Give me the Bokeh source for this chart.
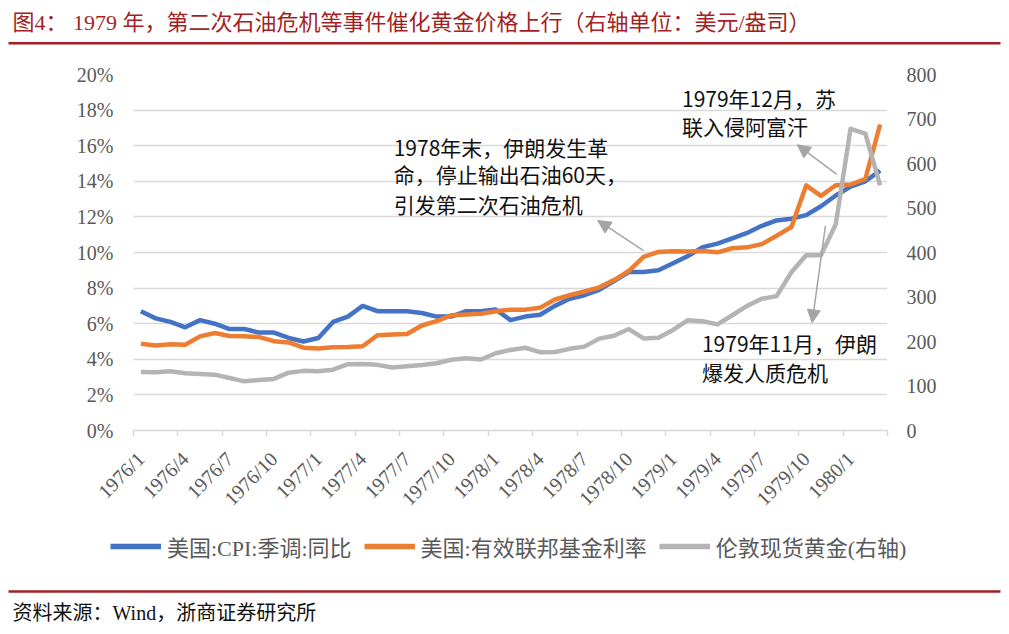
import math
from bokeh.plotting import figure
from bokeh.layouts import column
from bokeh.models import (Range1d, LinearAxis, FixedTicker, Label, Arrow, NormalHead,
                          Legend, LegendItem, BoxAnnotation, ColumnDataSource)
from bokeh.embed import file_html
from bokeh.resources import INLINE

# ---------------- data ----------------
months = [
    "1976/1", "1976/2", "1976/3", "1976/4", "1976/5", "1976/6", "1976/7", "1976/8", "1976/9", "1976/10", "1976/11", "1976/12",
    "1977/1", "1977/2", "1977/3", "1977/4", "1977/5", "1977/6", "1977/7", "1977/8", "1977/9", "1977/10", "1977/11", "1977/12",
    "1978/1", "1978/2", "1978/3", "1978/4", "1978/5", "1978/6", "1978/7", "1978/8", "1978/9", "1978/10", "1978/11", "1978/12",
    "1979/1", "1979/2", "1979/3", "1979/4", "1979/5", "1979/6", "1979/7", "1979/8", "1979/9", "1979/10", "1979/11", "1979/12",
    "1980/1", "1980/2", "1980/3",
]
tick_labels = ["1976/1", "1976/4", "1976/7", "1976/10", "1977/1", "1977/4", "1977/7", "1977/10",
               "1978/1", "1978/4", "1978/7", "1978/10", "1979/1", "1979/4", "1979/7", "1979/10", "1980/1"]

# 美国:CPI:季调:同比 (%)
cpi = [6.7, 6.3, 6.1, 5.8, 6.2, 6.0, 5.7, 5.7, 5.5, 5.5, 5.2, 5.0,
       5.2, 6.1, 6.4, 7.0, 6.7, 6.7, 6.7, 6.6, 6.4, 6.4, 6.7, 6.7,
       6.8, 6.2, 6.4, 6.5, 7.0, 7.4, 7.6, 7.9, 8.4, 8.9, 8.9, 9.0,
       9.4, 9.8, 10.3, 10.5, 10.8, 11.1, 11.5, 11.8, 11.9, 12.1, 12.6, 13.2,
       13.7, 14.0, 14.6]
# 美国:有效联邦基金利率 (%)
ffr = [4.87, 4.77, 4.84, 4.82, 5.29, 5.48, 5.31, 5.29, 5.25, 5.02, 4.95, 4.65,
       4.61, 4.68, 4.69, 4.73, 5.35, 5.39, 5.42, 5.90, 6.14, 6.47, 6.51, 6.56,
       6.70, 6.78, 6.79, 6.89, 7.36, 7.60, 7.81, 8.04, 8.45, 8.96, 9.76, 10.03,
       10.07, 10.06, 10.09, 10.01, 10.24, 10.29, 10.47, 10.94, 11.43, 13.77, 13.18, 13.78,
       13.82, 14.13, 17.19]
# 伦敦现货黄金 (美元/盎司, 右轴)
gold = [131.5, 131.0, 133.0, 128.5, 127.0, 125.5, 118.0, 110.5, 113.6, 115.9, 130.0, 134.0,
        133.0, 136.7, 149.0, 149.2, 147.5, 141.5, 144.5, 147.0, 151.0, 159.0, 162.5, 159.5,
        173.5, 181.0, 186.0, 176.0, 176.3, 183.5, 188.5, 206.5, 213.0, 228.0, 207.0, 208.5,
        226.0, 248.0, 245.5, 238.5, 259.0, 280.0, 296.0, 302.0, 355.5, 394.0, 394.0, 463.5,
        678.0, 667.0, 551.0]

series_names = ["美国:CPI:季调:同比", "美国:有效联邦基金利率", "伦敦现货黄金(右轴)"]
series_colors = ["#4472C4", "#ED7D31", "#B4B4B4"]

x = list(range(len(months)))
src = ColumnDataSource(dict(x=x, month=months, cpi=cpi, ffr=ffr, gold=gold))

W = 1005
GRID = "#D9D9D9"
TICKC = "#595959"
RED = "#A31F24"
SERIF = "Liberation Serif, Noto Sans CJK SC"
CJK = "Noto Sans CJK SC"


def blank(height):
    f = figure(width=W, height=height, output_backend="svg", toolbar_location=None,
               x_range=Range1d(0, W), y_range=Range1d(height, 0),
               x_axis_type=None, y_axis_type=None,
               min_border_left=0, min_border_right=0, min_border_top=0, min_border_bottom=0)
    f.outline_line_color = None
    f.background_fill_color = "white"
    f.border_fill_color = "white"
    f.frame_align = False
    return f


# ---------------- header ----------------
HH = 50
header = blank(HH)
header.add_layout(Label(x=12, y=22, text="图4：  1979 年，第二次石油危机等事件催化黄金价格上行（右轴单位：美元/盎司）",
                        text_font=SERIF, text_font_size="22px", text_color=RED, text_baseline="middle"))
header.add_layout(BoxAnnotation(left=8, right=1000, top=41.5, bottom=44, fill_color=RED, fill_alpha=1, line_color=None))

# ---------------- main chart ----------------
MH = 470
p = figure(width=W, height=MH, output_backend="svg", toolbar_location=None,
           x_range=Range1d(-0.5, len(months) - 0.5), y_range=Range1d(0, 20),
           min_border_left=133, min_border_right=W - 887, min_border_top=74 - HH,
           min_border_bottom=HH + MH - 433,
           background_fill_color="white", border_fill_color="white")
p.outline_line_color = None
p.xgrid.visible = False
p.frame_align = False

major = list(range(0, len(months), 3))
minor = [m - 0.5 for m in range(0, len(months) + 1, 3)]
xa = p.xaxis[0]
xa.ticker = FixedTicker(ticks=major, minor_ticks=minor)
xa.major_label_overrides = {m: tick_labels[k] for k, m in enumerate(major)}
xa.major_label_orientation = math.pi / 4
xa.axis_line_color = GRID
xa.axis_line_width = 1.5
xa.major_tick_out = 0
xa.major_tick_in = 0
xa.minor_tick_out = 6
xa.minor_tick_in = 0
xa.minor_tick_line_color = GRID
xa.minor_tick_line_width = 1.5
xa.major_label_standoff = 19
xa.major_label_text_font = SERIF
xa.major_label_text_font_size = "20px"
xa.major_label_text_color = TICKC

ya = p.yaxis[0]
yt = list(range(0, 21, 2))
ya.ticker = FixedTicker(ticks=yt, minor_ticks=[])
ya.major_label_overrides = {v: f"{v}%" for v in yt}
ya.axis_line_color = None
ya.major_tick_out = 0
ya.major_tick_in = 0
ya.major_tick_line_color = None
ya.minor_tick_line_color = None
ya.major_label_standoff = 20
ya.major_label_text_font = SERIF
ya.major_label_text_font_size = "20px"
ya.major_label_text_color = TICKC

p.ygrid.ticker = FixedTicker(ticks=yt)
p.ygrid.grid_line_color = GRID
p.ygrid.grid_line_width = 1.5

p.extra_y_ranges = {"gold": Range1d(0, 800)}
ra = LinearAxis(y_range_name="gold", ticker=FixedTicker(ticks=list(range(0, 801, 100)), minor_ticks=[]))
ra.axis_line_color = None
ra.major_tick_out = 0
ra.major_tick_in = 0
ra.major_tick_line_color = None
ra.minor_tick_line_color = None
ra.major_label_standoff = 19
ra.major_label_text_font = SERIF
ra.major_label_text_font_size = "20px"
ra.major_label_text_color = TICKC
p.add_layout(ra, "right")

p.line("x", "cpi", source=src, line_width=4.5, line_color=series_colors[0], line_join="round")
p.line("x", "ffr", source=src, line_width=4.5, line_color=series_colors[1], line_join="round")
p.line("x", "gold", source=src, y_range_name="gold", line_width=4.5, line_color=series_colors[2], line_join="round")

ANN = dict(text_font=CJK, text_font_size="21px", text_color="#111111", text_baseline="middle")
ann1 = ["1978年末，伊朗发生革", "命，停止输出石油60天，", "引发第二次石油危机"]
ann1_y = [15.93, 14.43, 12.7]
for t, yy in zip(ann1, ann1_y):
    p.add_layout(Label(x=17.1, y=yy, text=t, **ANN))
ann2 = ["1979年12月，苏", "联入侵阿富汗"]
ann2_y = [18.66, 17.12]
for t, yy in zip(ann2, ann2_y):
    p.add_layout(Label(x=36.6, y=yy, text=t, **ANN))
ann3 = ["1979年11月，伊朗", "爆发人质危机"]
ann3_y = [4.9, 3.28]
for t, yy in zip(ann3, ann3_y):
    p.add_layout(Label(x=37.95, y=yy, text=t, **ANN))

AC = "#A5A5A5"
for xs, ys, xe, ye in [(34.0, 10.1, 30.9, 11.8), (47.05, 14.4, 44.4, 16.05), (46.3, 11.5, 45.4, 6.05)]:
    p.add_layout(Arrow(x_start=xs, y_start=ys, x_end=xe, y_end=ye, line_color=AC, line_width=1.5,
                       end=NormalHead(size=13, fill_color=AC, line_color=AC)))

# ---------------- footer: legend, rule, source ----------------
FH = 112
footer = blank(FH)
items = []
for name, col in zip(series_names, series_colors):
    r = footer.line(x=[float("nan")], y=[float("nan")], line_width=5.5, line_color=col)
    items.append(LegendItem(label=name, renderers=[r]))
legend = Legend(items=items, location=(110, 70), orientation="horizontal",
                glyph_width=51, glyph_height=22, label_height=22, label_standoff=6, spacing=12,
                padding=0, margin=0, border_line_color=None, background_fill_alpha=0,
                label_text_font=SERIF, label_text_font_size="22px", label_text_color=TICKC)
footer.add_layout(legend)
footer.add_layout(BoxAnnotation(left=8, right=1000, top=69.8, bottom=72.3, fill_color=RED, fill_alpha=1, line_color=None))
footer.add_layout(Label(x=12, y=92, text="资料来源：Wind，浙商证券研究所",
                        text_font=SERIF, text_font_size="20px", text_color="#111111", text_baseline="middle"))

layout = column(header, p, footer, spacing=0)
open("out.html", "w").write(file_html(layout, INLINE))
